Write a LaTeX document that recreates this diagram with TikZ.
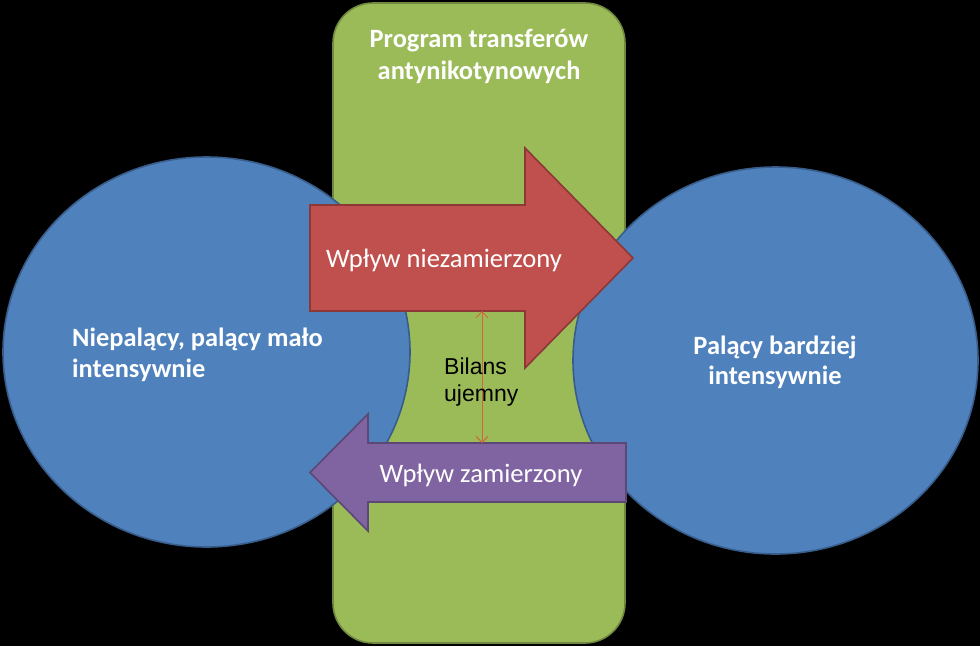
\documentclass[tikz,border=0pt]{standalone}
\usepackage{fontspec}
\setmainfont{Carlito}
\newfontfamily\arialfont{Liberation Sans}
\usetikzlibrary{shapes.geometric,arrows.meta,positioning}
\definecolor{crowdblue}{HTML}{4F81BD}
\definecolor{crowdline}{HTML}{385D8A}
\definecolor{proggreen}{HTML}{9BBB59}
\definecolor{progline}{HTML}{71893F}
\definecolor{flowred}{HTML}{C0504D}
\definecolor{redline}{HTML}{8C3836}
\definecolor{flowviolet}{HTML}{8064A2}
\definecolor{violetline}{HTML}{5C4776}
\definecolor{balorange}{RGB}{205,105,60}
\begin{document}
\begin{tikzpicture}[x=1pt, y=-1pt,
	crowd/.style = {draw=crowdline, fill=crowdblue, ellipse, line width=1.6pt, inner sep=0pt},
	prog/.style = {draw=progline, fill=proggreen, rounded corners=40pt, line width=1.6pt, minimum width=292pt, minimum height=640pt},
	bigtxt/.style = {text=white, inner sep=0pt, font=\bfseries\fontsize{26.4}{31.5}\selectfont},
	flowtxt/.style = {text=white, inner sep=0pt, font=\fontsize{26.6}{30}\selectfont},
	bal/.style = {draw=balorange, line width=0.9pt, {Straight Barb[length=6pt,width=12pt]}-{Straight Barb[length=6pt,width=12pt]}}]
		\fill[black] (0,0) rectangle (980,646);
		\node[prog] (prog) at (479,323) {};
		\node[bigtxt, align=center, below=27pt of prog.north] (title) {Program transferów\\antynikotynowych};
		\node[crowd, minimum width=407pt, minimum height=390pt] (low) at (206.5,352) {};
		\node[crowd, minimum width=405pt, minimum height=387pt] (high) at (775.5,360.5) {};
		\draw[draw=redline, fill=flowred, line width=1.6pt, line join=miter] (310,205) -- (525,205) -- (525,148) -- (633,258) -- (525,368) -- (525,311) -- (310,311) -- cycle;
		\draw[draw=violetline, fill=flowviolet, line width=1.6pt, line join=miter] (626,443) -- (368,443) -- (368,414) -- (310,472.5) -- (368,531) -- (368,502) -- (626,502) -- cycle;
		\node[bigtxt, align=left] (lowtxt) at (197.5,355) {Niepalący, palący mało\\intensywnie};
		\node[bigtxt, align=center, font=\bfseries\fontsize{26.4}{30}\selectfont] (hightxt) at (775,362) {Palący bardziej\\intensywnie};
		\node[flowtxt, anchor=base] (unint) at (444,267) {Wpływ niezamierzony};
		\node[flowtxt, anchor=base] (int) at (481,482) {Wpływ zamierzony};
		\coordinate (baltop) at (482,311);
		\coordinate (balbot) at (482,443);
		\draw[bal] (baltop) -- (balbot);
		\node[inner sep=0pt, align=left, anchor=west, font=\arialfont\fontsize{23}{27}\selectfont] (bil) at (444,382.5) {Bilans\\ujemny};
	\end{tikzpicture}
\end{document}
